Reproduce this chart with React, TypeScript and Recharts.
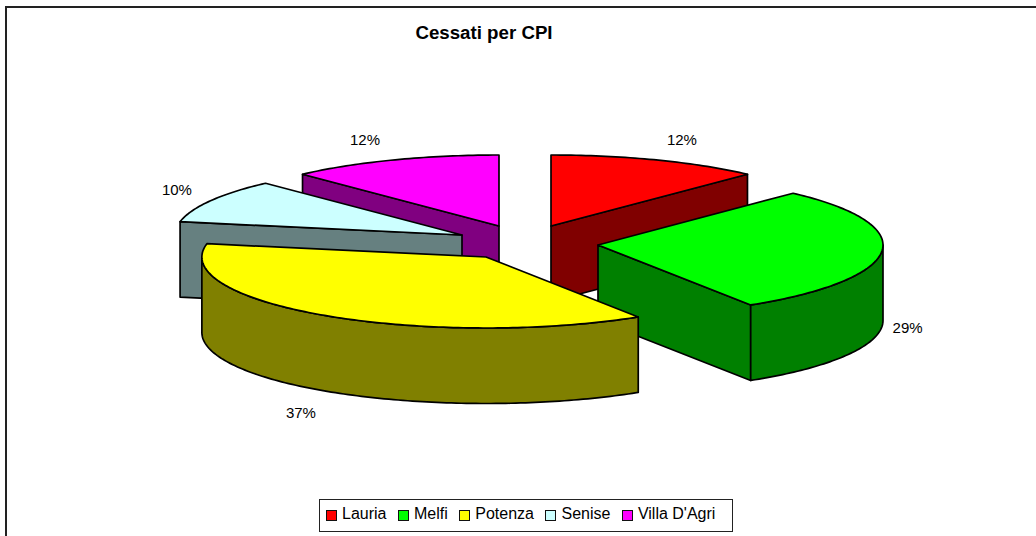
import { Legend, Pie, PieChart } from "recharts";

const categories = ["Lauria", "Melfi", "Potenza", "Senise", "Villa D'Agri"];
const shares = [12, 29, 37, 10, 12];
const topColors = ["#ff0000", "#00ff00", "#ffff00", "#ccffff", "#ff00ff"];
const sideColors = ["#800000", "#008000", "#808000", "#668080", "#800080"];

// back to front, the legend keeps the data order
const paintOrder = [0, 4, 3, 1, 2];
// where each exploded slice sits relative to the pie centre
const explode = [
  [26, -14],
  [73, 5],
  [-39, 17],
  [-63, -5],
  [-26, -14],
];
// the front slices come out a bit narrower in the original
const widthScale = [1, 0.993, 0.99, 1, 1];
const labelNudge = [
  [15, 0],
  [-4, -2],
  [-8, 3],
  [-9, -1],
  [-18, 0],
];

const CX = 525;
const CY = 240;
const RX = 287;
const RY = 71;
const DEPTH = 75.5;
const LINE = 1.7;

const data = categories.map((name, i) => ({ name, value: shares[i] }));
const rad = (deg: number) => (deg * Math.PI) / 180;

function Slice(props: any, only: number) {
  const { index, cx, cy, outerRadius, startAngle, endAngle, percent } = props;
  if (index !== only) return <g />;
  const squash = RY / outerRadius;
  const x0 = cx + explode[index][0];
  const y0 = cy + explode[index][1];
  const px = (a: number) => x0 + outerRadius * widthScale[index] * Math.cos(rad(a));
  const py = (a: number) => y0 - outerRadius * squash * Math.sin(rad(a));
  const arc = (from: number, to: number) => {
    let d = "";
    for (let a = from; a >= to; a -= 1) d += `L${px(a)} ${py(a)} `;
    return d + `L${px(to)} ${py(to)} `;
  };
  const wall = (a: number) =>
    `M${x0} ${y0} L${px(a)} ${py(a)} L${px(a)} ${py(a) + DEPTH} L${x0} ${y0 + DEPTH} Z`;
  const fromTop = (a: number) => ((90 - a) % 360 + 360) % 360;
  const startVisible = fromTop(startAngle) > 180;
  const endVisible = fromTop(endAngle) < 180 && fromTop(endAngle) > 0;
  // only the part of the rim in the lower half faces the viewer
  const rimFrom = Math.min(startAngle, 0);
  const rimTo = Math.max(endAngle, -180);
  let rim = "";
  if (rimFrom > rimTo) {
    let back = "";
    for (let a = rimTo; a <= rimFrom; a += 1) back += `L${px(a)} ${py(a) + DEPTH} `;
    rim = `M${px(rimFrom)} ${py(rimFrom)} ${arc(rimFrom, rimTo)} L${px(rimTo)} ${py(rimTo) + DEPTH} ${back} L${px(rimFrom)} ${py(rimFrom) + DEPTH} Z`;
  }
  const mid = (startAngle + endAngle) / 2;
  const front = Math.sin(rad(mid)) < 0;
  const lx = x0 + (outerRadius + 28) * Math.cos(rad(mid)) + labelNudge[index][0];
  const ly = y0 - (RY + 22) * Math.sin(rad(mid)) + (front ? DEPTH : 0) + labelNudge[index][1];
  const side = { fill: sideColors[index], stroke: "#000", strokeWidth: LINE, strokeLinejoin: "round" as const };
  return (
    <g>
      {startVisible && <path d={wall(startAngle)} {...side} />}
      {endVisible && <path d={wall(endAngle)} {...side} />}
      {rim && <path d={rim} {...side} />}
      <path
        d={`M${x0} ${y0} ${arc(startAngle, endAngle)} Z`}
        fill={topColors[index]}
        stroke="#000"
        strokeWidth={LINE}
        strokeLinejoin="round"
      />
      <text x={lx} y={ly} textAnchor="middle" dominantBaseline="central" fontSize={15} fill="#000">
        {`${Math.round(percent * 100)}%`}
      </text>
    </g>
  );
}

function ChartLegend() {
  return (
    <div
      style={{
        position: "absolute",
        left: 319,
        top: 499,
        width: 414,
        height: 33,
        boxSizing: "border-box",
        border: "1.5px solid #222",
        display: "flex",
        alignItems: "center",
        paddingLeft: 6,
        paddingBottom: 3,
        fontFamily: "'Liberation Sans', Arial, sans-serif",
        fontSize: 16,
        background: "#fff",
      }}
    >
      {categories.map((name, i) => (
        <span key={name} style={{ display: "flex", alignItems: "center", marginRight: 11.5 }}>
          <span
            style={{
              width: 11,
              height: 11,
              boxSizing: "border-box",
              border: "1.5px solid #111",
              background: topColors[i],
              marginRight: 5,
              marginTop: 2,
              display: "inline-block",
            }}
          />
          {name}
        </span>
      ))}
    </div>
  );
}

export default function App() {
  return (
    <div
      style={{
        position: "absolute",
        left: 0,
        top: 0,
        width: 1036,
        height: 536,
        overflow: "hidden",
        background: "#fff",
      }}
    >
      <PieChart
        width={1030}
        height={529}
        margin={{ top: 0, right: 0, bottom: 0, left: 0 }}
        style={{
          position: "absolute",
          left: 5,
          top: 6,
          borderTop: "2px solid #222",
          borderLeft: "2px solid #222",
          fontFamily: "'Liberation Sans', Arial, sans-serif",
        }}
      >
        <text x={477} y={31} textAnchor="middle" fontSize={18.7} fontWeight="bold" fill="#000">
          Cessati per CPI
        </text>
        {paintOrder.map((only) => (
          <Pie
            key={only}
            data={data}
            dataKey="value"
            nameKey="name"
            cx={CX - 7}
            cy={CY - 8}
            outerRadius={RX}
            startAngle={90}
            endAngle={-270}
            stroke="none"
            legendType="none"
            isAnimationActive={false}
            shape={(p: any) => Slice(p, only)}
          />
        ))}
        <Legend content={() => null} />
      </PieChart>
      <ChartLegend />
    </div>
  );
}
